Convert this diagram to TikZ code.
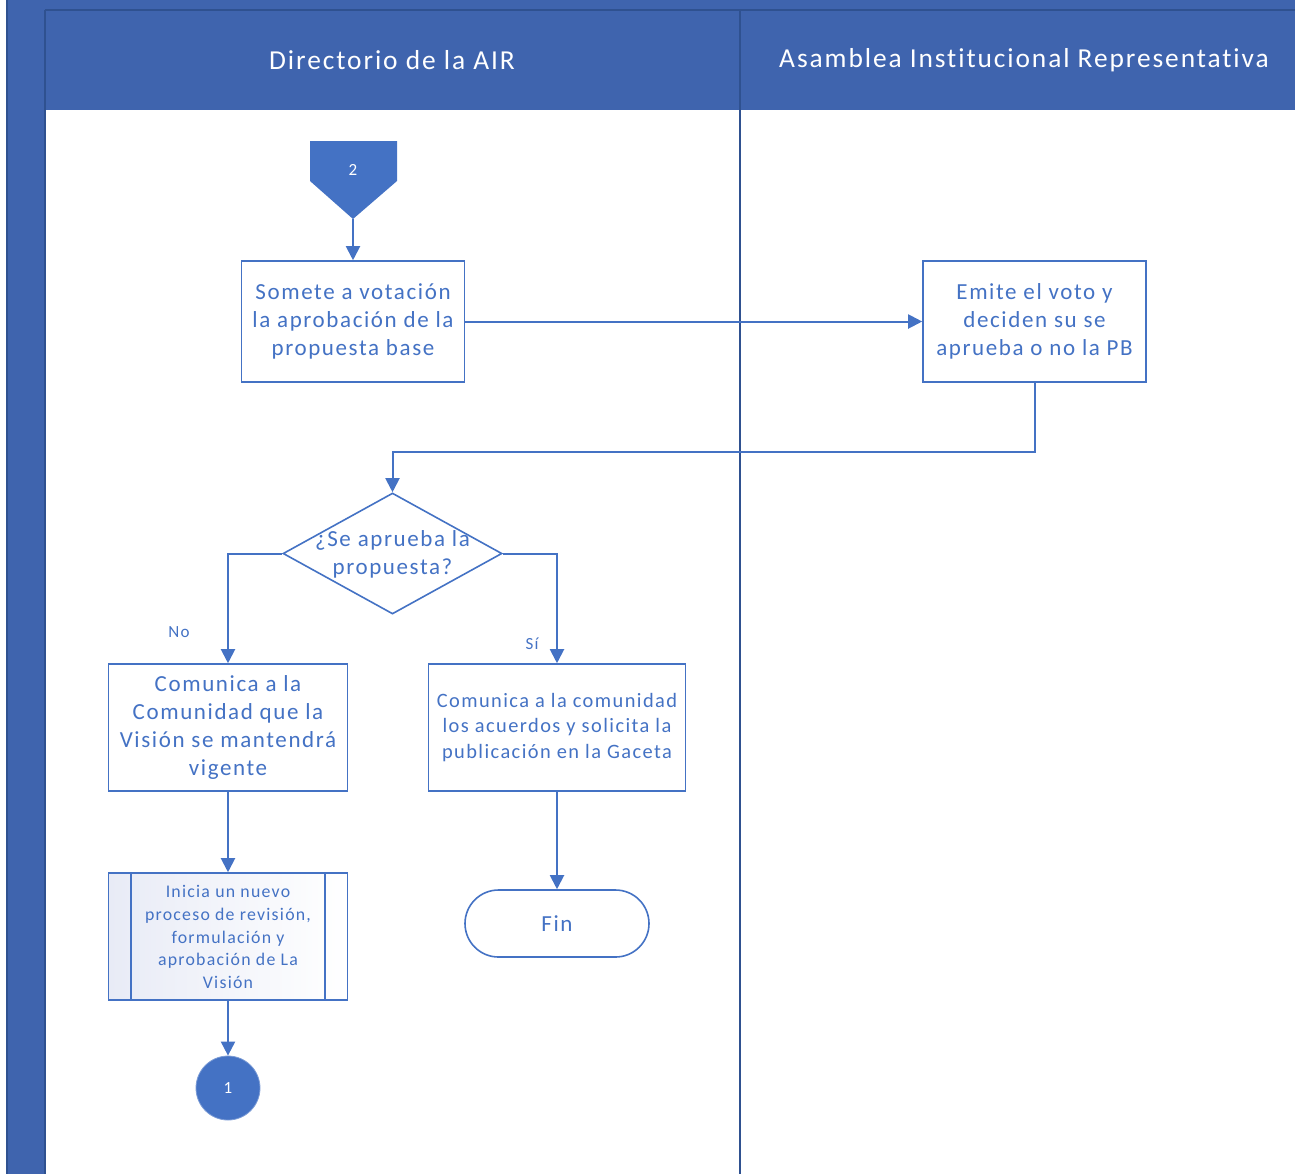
\documentclass[tikz,border=0pt]{standalone}
\usepackage{fontspec}
\setmainfont{Carlito}[LetterSpace=7,Ligatures=NoCommon]
\usetikzlibrary{arrows.meta,shapes.geometric,shapes.misc,positioning,calc}
\definecolor{hdr}{HTML}{3F64AE}
\definecolor{hdrline}{HTML}{2F5190}
\definecolor{ln}{HTML}{4472C4}
\definecolor{txt}{HTML}{4472C4}
\definecolor{lav}{HTML}{E8EBF6}
\begin{document}
\begin{tikzpicture}[x=0.5pt,y=-0.5pt,
  conn/.style={draw=ln,line width=1pt,-{Triangle[length=7pt,width=7pt]}},
  procbox/.style={draw=ln,line width=0.8pt,fill=white,text=txt,align=center,inner sep=0pt},
  lanehdr/.style={text=white,font=\fontsize{13.7}{15}\selectfont},
  lbl/.style={text=txt,font=\fontsize{8.5}{10}\selectfont}]
\useasboundingbox (0,0) rectangle (1295,1174);
% swimlane frame
\fill[hdr] (7,0) rectangle (1295,110);
\fill[hdr] (7,0) rectangle (45,1174);
\draw[hdrline,line width=0.6pt] (45,10) -- (1295,10);
\draw[hdrline,line width=0.6pt] (45,10) -- (45,1174);
\draw[hdrline,line width=0.6pt] (7,0) -- (7,1174);
\draw[hdrline,line width=0.8pt] (740,10) -- (740,1174);
\node[lanehdr] (h1) at (392,60) {Directorio de la AIR};
\node[lanehdr] (h2) at (1024,60) {Asamblea Institucional Representativa};
% off-page connector
\fill[ln] (310,141) -- (397,141) -- (397,181) -- (353,219) -- (310,181) -- cycle;
\node[text=white,font=\fontsize{8.5}{10}\selectfont] (op) at (353,170) {2};
\coordinate (opb) at (353,219);
% boxes
\node[procbox,minimum width=111.5pt,minimum height=60.5pt,font=\fontsize{11.5}{14}\selectfont] (b1) at (353,321.5) {Somete a votación\\la aprobación de la\\propuesta base};
\node[procbox,minimum width=111.5pt,minimum height=60.5pt,font=\fontsize{11.5}{14}\selectfont] (b2) at (1034.5,321.5) {Emite el voto y\\deciden su se\\aprueba o no la PB};
\node[diamond,draw=ln,line width=0.8pt,fill=white,minimum width=109.5pt,minimum height=60.5pt,inner sep=0pt,aspect=1.8] (d) at (392.5,553.5) {};
\node[text=txt,align=center,font=\fontsize{11.5}{14}\selectfont] (dt) at (392.5,554) {¿Se aprueba la\\propuesta?};
\node[procbox,minimum width=119.5pt,minimum height=63.5pt,font=\fontsize{11.5}{14}\selectfont] (b3) at (228,727.5) {Comunica a la\\Comunidad que la\\Visión se mantendrá\\vigente};
\node[procbox,minimum width=128.5pt,minimum height=63.5pt,font=\fontsize{10.2}{12.6}\selectfont] (b4) at (557,727.5) {Comunica a la comunidad\\los acuerdos y solicita la\\publicación en la Gaceta};
% subprocess
\node[draw=ln,line width=0.8pt,left color=lav,right color=white,minimum width=119.5pt,minimum height=63.5pt,inner sep=0pt] (sp) at (228,936.5) {};
\draw[ln,line width=0.8pt] (131,873) -- (131,1000) (325,873) -- (325,1000);
\node[text=txt,align=center,font=\fontsize{8.9}{11.3}\selectfont] (spt) at (228,937) {Inicia un nuevo\\proceso de revisión,\\formulación y\\aprobación de La\\Visión};
% connector circle
\node[circle,fill=ln,draw=ln!70!white,minimum size=32pt,inner sep=0pt,text=white,font=\fontsize{8.5}{10}\selectfont] (c1) at (228,1088) {1};
% terminator
\node[rounded rectangle,draw=ln,line width=0.8pt,fill=white,minimum width=92pt,minimum height=33.5pt,inner sep=0pt,text=txt,font=\fontsize{11.5}{14}\selectfont] (fin) at (557,923.5) {Fin};
% connectors
\draw[conn] (opb) -- (b1.north);
\draw[conn] (b1.east) -- (b2.west);
\draw[conn] (b2.south) |- (392.5,452) -- (d.north);
\draw[conn] (d.west) -| (b3.north);
\draw[conn] (d.east) -| (b4.north);
\draw[conn] (b3.south) -- (sp.north);
\draw[conn] (sp.south) -- (c1.north);
\draw[conn] (b4.south) -- (fin.north);
\node[lbl] (no) at (179,632) {No};
\node[lbl] (si) at (532,644) {Sí};
\end{tikzpicture}
\end{document}
